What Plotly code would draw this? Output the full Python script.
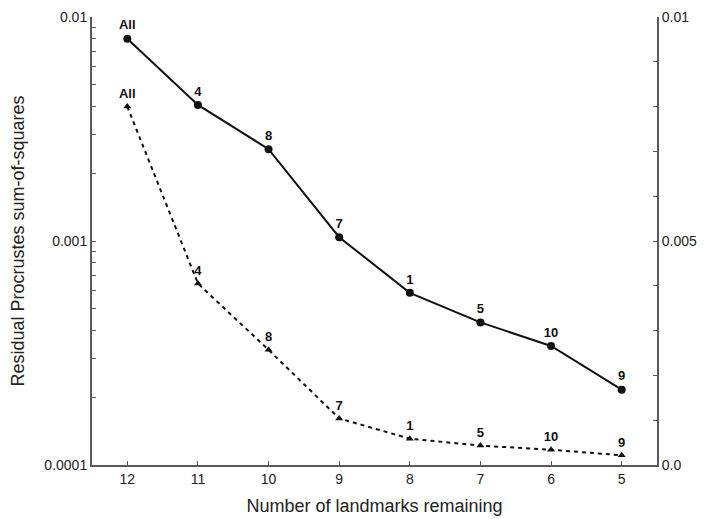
import plotly.graph_objects as go

landmarks = [12, 11, 10, 9, 8, 7, 6, 5]
residual_ss = [0.0080, 0.00405, 0.00257, 0.00104, 0.000587, 0.000433, 0.000340, 0.000217]
removed_labels = ["All", "4", "8", "7", "1", "5", "10", "9"]

log_tickvals = [0.0001, 0.001, 0.01]
log_ticktext = ["0.0001", "0.001", "0.01"]
lin_tickvals = [0.0, 0.005, 0.01]
lin_ticktext = ["0.0", "0.005", "0.01"]
minor_log = [m * 10 ** e for e in (-4, -3) for m in range(2, 10)]

FONT = "Liberation Sans, Arial, Helvetica, sans-serif"
AX = "#5a5a5a"
INK = "#111111"

fig = go.Figure()
fig.add_trace(go.Scatter(
    x=landmarks, y=residual_ss, mode="lines+markers+text",
    text=removed_labels, textposition="top center",
    textfont=dict(family=FONT, size=13, color=INK, weight="bold"),
    line=dict(color=INK, width=2),
    marker=dict(symbol="circle", size=8, color=INK),
    cliponaxis=False, showlegend=False, yaxis="y"))
fig.add_trace(go.Scatter(
    x=landmarks, y=residual_ss, mode="lines+markers+text",
    text=removed_labels, textposition="top center",
    textfont=dict(family=FONT, size=13, color=INK, weight="bold"),
    line=dict(color=INK, width=2, dash="4px,4px"),
    marker=dict(symbol="triangle-up", size=7, color=INK),
    cliponaxis=False, showlegend=False, yaxis="y2"))

# page body has an 8px default margin; figure sized/offset to compensate
fig.update_layout(
    width=708, height=511,
    margin=dict(l=84, r=59, t=9, b=53.5, autoexpand=False),
    paper_bgcolor="white", plot_bgcolor="white",
    font=dict(family=FONT, size=14, color="#222222"),
    xaxis=dict(
        range=[12.5, 4.5], tickvals=landmarks, ticktext=[str(v) for v in landmarks],
        showline=True, linecolor=AX, linewidth=2, ticks="inside", ticklen=4,
        tickcolor=AX, showgrid=False, zeroline=False, automargin=False,
        tickfont=dict(size=14, color="#222222"),
        title=dict(text="Number of landmarks remaining", font=dict(size=18), standoff=14)),
    yaxis=dict(
        type="log", range=[-4, -2], tickvals=log_tickvals, ticktext=log_ticktext,
        showline=True, linecolor=AX, linewidth=2, ticks="inside", ticklen=4,
        tickcolor=AX, showgrid=False, zeroline=False, automargin=False,
        minor=dict(tickvals=minor_log, ticks="inside", ticklen=4, tickcolor=AX, showgrid=False),
        tickfont=dict(size=14, color="#222222"),
        title=dict(text="Residual Procrustes sum-of-squares", font=dict(size=18), standoff=21)),
    yaxis2=dict(
        overlaying="y", side="right", range=[0, 0.01],
        tickvals=lin_tickvals, ticktext=lin_ticktext,
        showline=True, linecolor=AX, linewidth=2, ticks="inside", ticklen=4,
        tickcolor=AX, showgrid=False, zeroline=False, automargin=False,
        minor=dict(dtick=0.001, tick0=0, ticks="inside", ticklen=4, tickcolor=AX, showgrid=False),
        tickfont=dict(size=14, color="#222222")),
)

fig.write_html("out.html")
